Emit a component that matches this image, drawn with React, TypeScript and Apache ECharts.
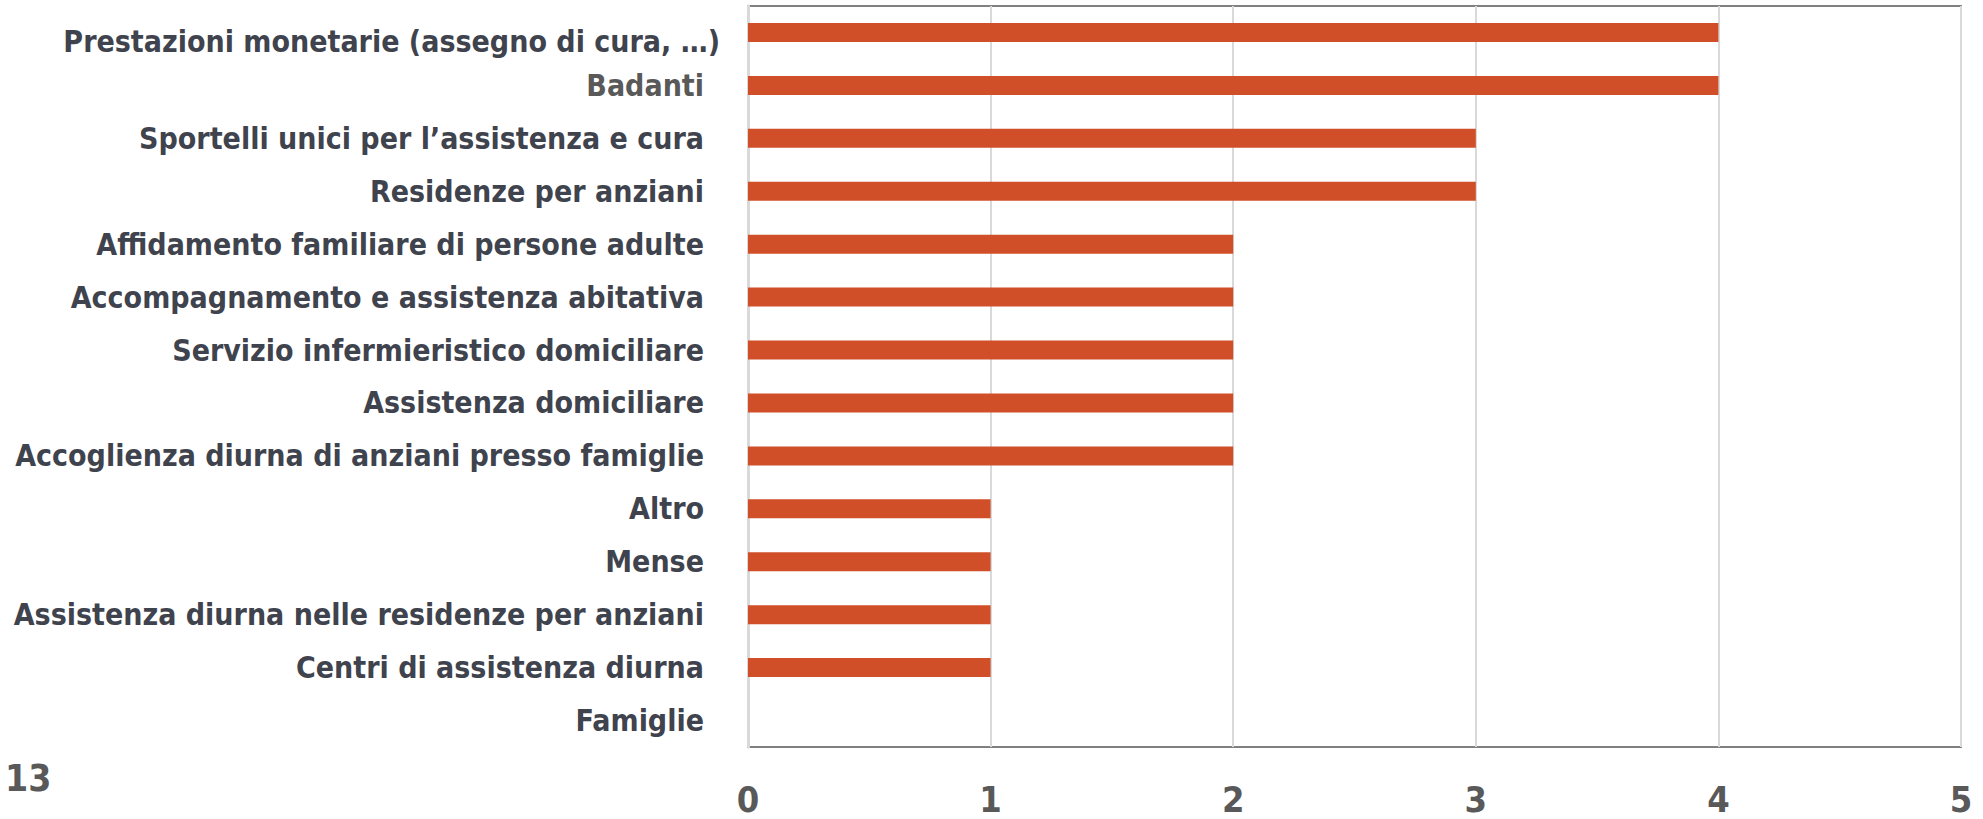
import React, { useEffect, useRef } from "react";
import * as echarts from "echarts";

const categories = [
  "Prestazioni monetarie (assegno di cura, …)",
  "Badanti",
  "Sportelli unici per l’assistenza e cura",
  "Residenze per anziani",
  "Affidamento familiare di persone adulte",
  "Accompagnamento e assistenza abitativa",
  "Servizio infermieristico domiciliare",
  "Assistenza domiciliare",
  "Accoglienza diurna di anziani presso famiglie",
  "Altro",
  "Mense",
  "Assistenza diurna nelle residenze per anziani",
  "Centri di assistenza diurna",
  "Famiglie",
];
const values = [4, 4, 3, 3, 2, 2, 2, 2, 2, 1, 1, 1, 1, 0];
const xTicks = [0, 1, 2, 3, 4, 5];
const pageNumber = "13";

const FONT = '"Liberation Sans Narrow", "DejaVu Sans Condensed", sans-serif';

export default function App() {
  const ref = useRef<HTMLDivElement>(null);
  useEffect(() => {
    document.body.style.margin = "0";
    const chart = echarts.init(ref.current!, null, { renderer: "svg" });
    chart.setOption({
      animation: false,
      backgroundColor: "#ffffff",
      grid: {
        left: 748,
        right: 22,
        top: 6,
        bottom: 72,
        show: true,
        borderColor: "#808080",
        borderWidth: 2,
        containLabel: false,
        outerBoundsMode: "none",
      },
      xAxis: {
        type: "value",
        min: xTicks[0],
        max: xTicks[xTicks.length - 1],
        interval: 1,
        axisLine: { show: false },
        axisTick: { show: false },
        splitLine: { show: true, lineStyle: { color: "#D9D9D9", width: 2 } },
        axisLabel: {
          color: "#595959",
          fontFamily: FONT,
          fontWeight: "bold",
          fontSize: 36,
          lineHeight: 36,
          margin: 34,
        },
      },
      yAxis: {
        type: "category",
        inverse: true,
        data: categories,
        axisTick: { show: false },
        axisLine: { show: true, lineStyle: { color: "#D9D9D9", width: 3 } },
        axisLabel: {
          fontFamily: FONT,
          fontWeight: "bold",
          fontSize: 30,
          margin: 44,
          formatter: (v: string, i: number) =>
            i === 0 ? `{a|${v}}` : i === 1 ? `{b|${v}}` : `{c|${v}}`,
          rich: {
            a: { color: "#3F434D", fontFamily: FONT, fontWeight: "bold", fontSize: 30, padding: [18, -16, 0, 0] },
            b: { color: "#595959", fontFamily: FONT, fontWeight: "bold", fontSize: 30 },
            c: { color: "#3F434D", fontFamily: FONT, fontWeight: "bold", fontSize: 30 },
          },
        },
      },
      series: [
        {
          type: "bar",
          data: values,
          barWidth: 19,
          itemStyle: { color: "#D04F29" },
        },
      ],
      graphic: [
        {
          type: "text",
          left: 5,
          top: 760,
          style: {
            text: pageNumber,
            fill: "#595959",
            font: `bold 37px ${FONT}`,
          },
        },
      ],
    });
    return () => chart.dispose();
  }, []);
  return (
    <div
      ref={ref}
      style={{ position: "absolute", left: 0, top: 0, width: 1983, height: 819 }}
    />
  );
}
